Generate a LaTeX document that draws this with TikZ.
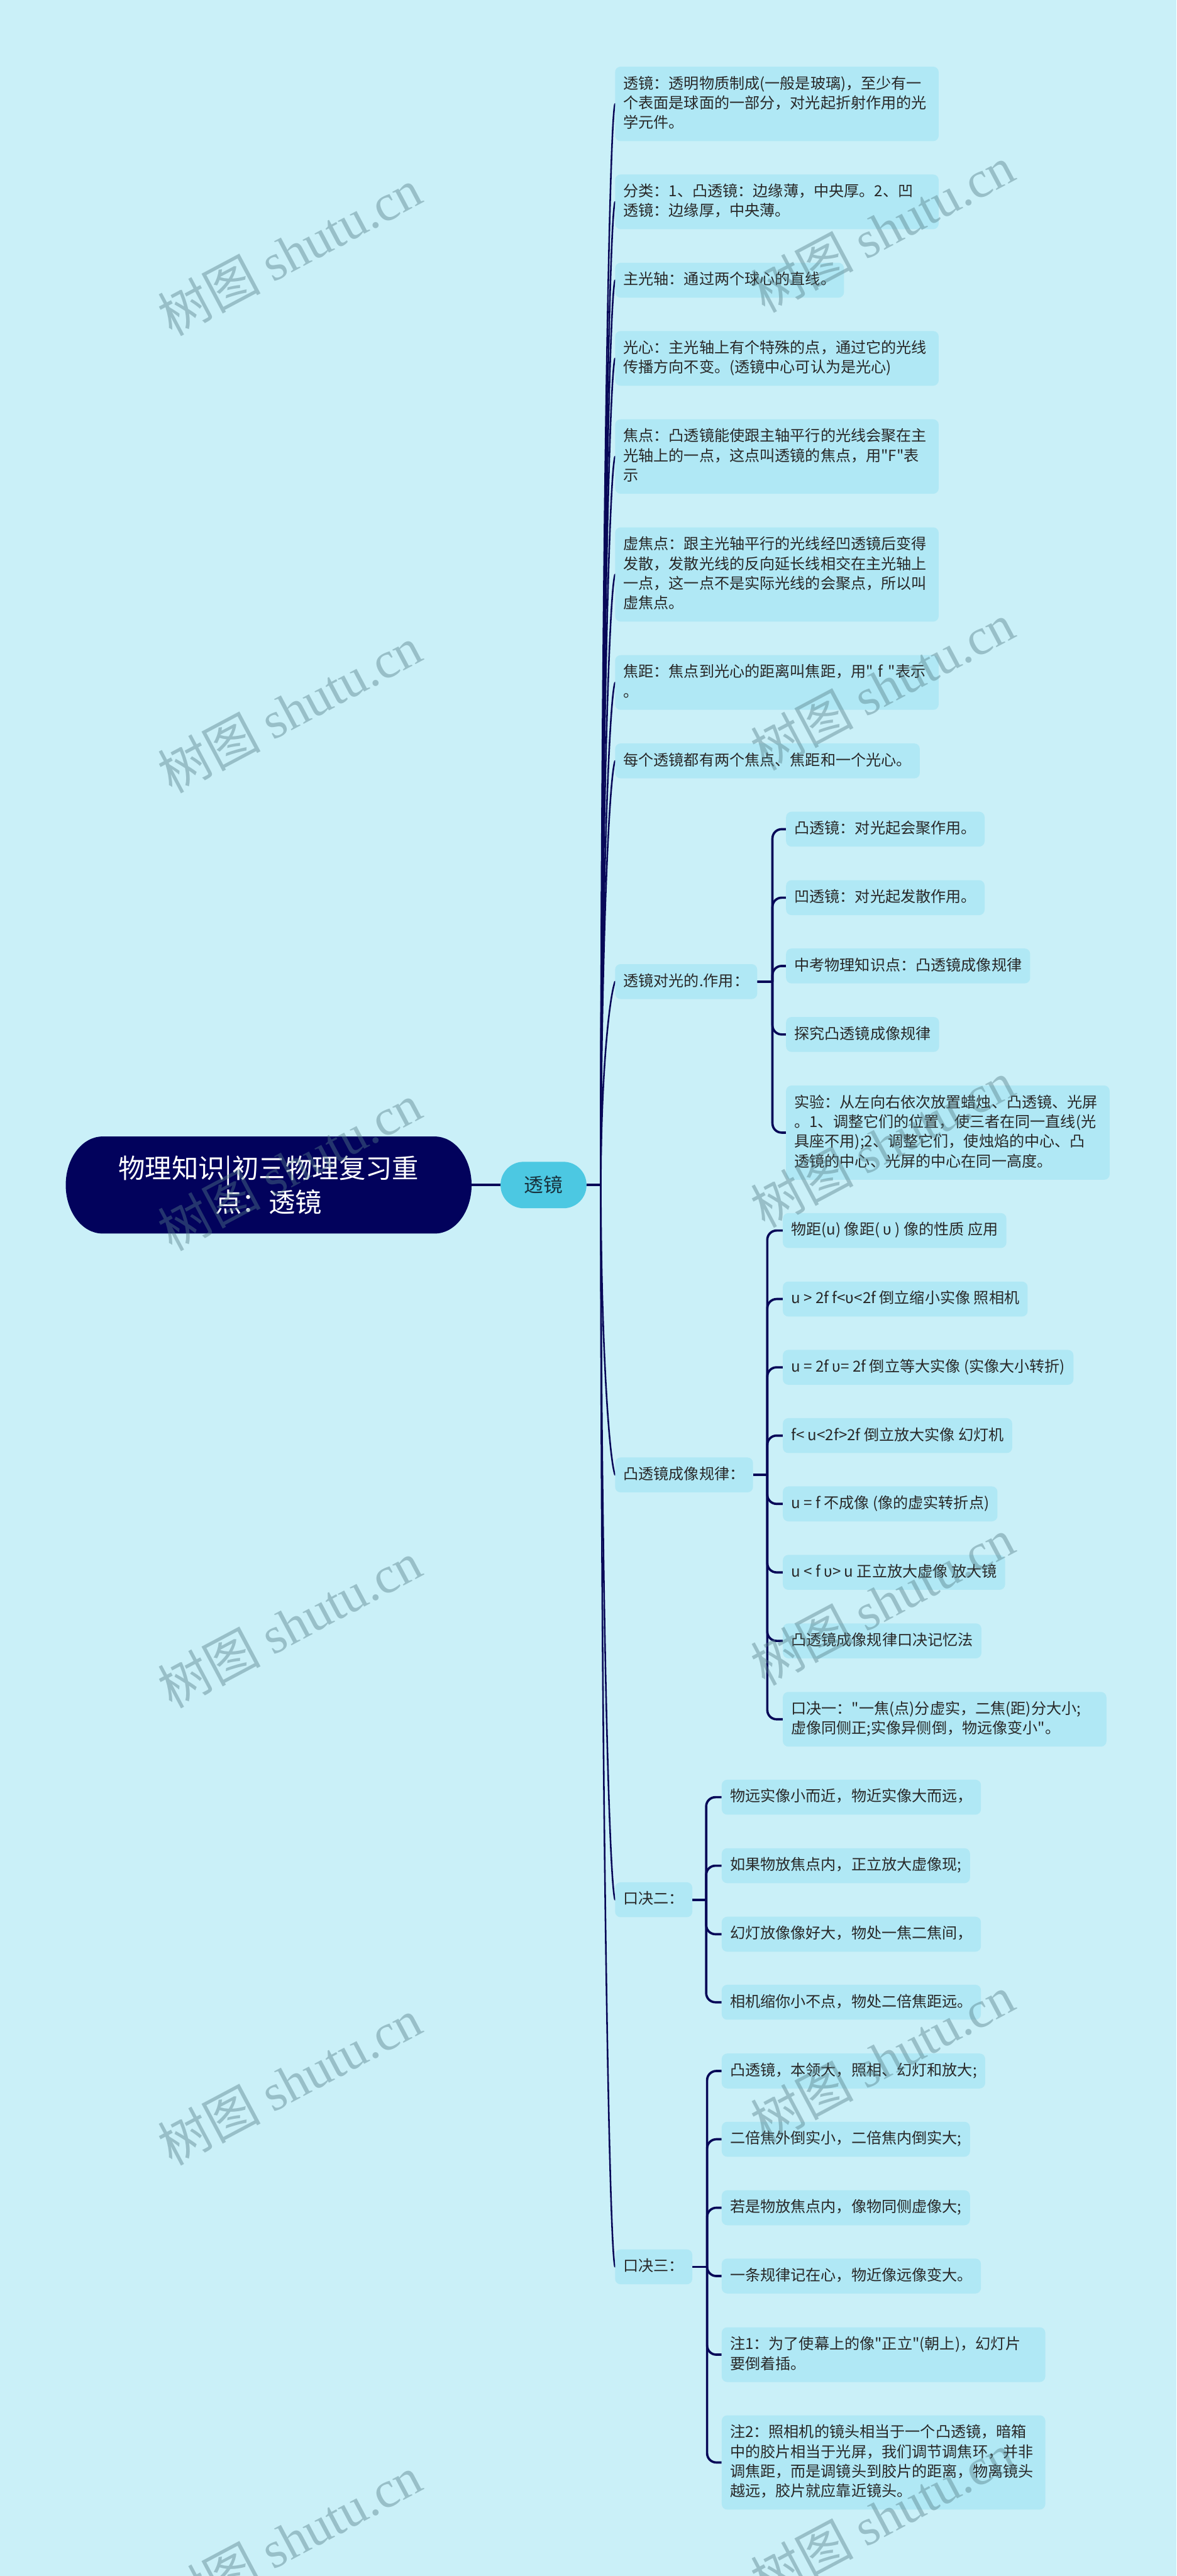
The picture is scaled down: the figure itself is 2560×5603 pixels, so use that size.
\documentclass[tikz,border=0pt]{standalone}
\usepackage{fontspec}
\setmainfont{Noto Sans CJK SC}[Ligatures=TeXOff]
\newfontfamily\wmlatin{Liberation Serif}
\usetikzlibrary{calc}
\pgfdeclarelayer{background}
\pgfsetlayers{background,main}
\definecolor{bgc}{RGB}{202,240,248}
\definecolor{boxc}{RGB}{176,232,245}
\definecolor{linec}{RGB}{8,8,88}
\definecolor{rootc}{RGB}{2,2,92}
\definecolor{pillc}{RGB}{76,200,226}
\definecolor{pilltxt}{RGB}{24,50,62}
\definecolor{txtc}{RGB}{40,40,40}
\definecolor{wmc}{RGB}{85,125,135}
\newcommand\mystr{\vrule width 0pt height 28pt depth 8pt\relax}
\tikzset{
  box/.style={fill=boxc, rounded corners=12pt, inner xsep=18pt, inner ysep=20pt, anchor=west, text=txtc, font=\fontsize{33pt}{43pt}\selectfont, align=left},
  wbox/.style={box, text width=668pt},
  lk/.style={draw=linec, line width=3.5pt, line cap=round},
  brk/.style={draw=linec, line width=5pt, rounded corners=20pt},
  trunk/.style={draw=linec, line width=5pt},
  wm/.style={text=wmc, text opacity=0.42, rotate=28, inner sep=0pt, font=\fontsize{112pt}{112pt}\selectfont},
}
\begin{document}
\begin{tikzpicture}[x=1pt,y=-1pt]
\useasboundingbox (0,0) rectangle (2560,5603);
\begin{pgfonlayer}{background}
\fill[bgc] (0,0) rectangle (2560,5603);
\end{pgfonlayer}

% root
\fill[rootc] (223,2472) -- (946,2472) .. controls (990.2,2472) and (1026,2519.2) .. (1026,2577.5) .. controls (1026,2635.8) and (990.2,2683) .. (946,2683) -- (223,2683) .. controls (178.8,2683) and (143,2635.8) .. (143,2577.5) .. controls (143,2519.2) and (178.8,2472) .. (223,2472) -- cycle;
\node[text=white, align=center, font=\fontsize{58pt}{74pt}\selectfont, minimum width=883pt, minimum height=211pt, inner sep=0pt] (root) at (584.5,2577.5) {物理知识|初三物理复习重\\点：透镜};

\node[fill=pillc, rounded corners=50pt, minimum width=187pt, minimum height=101pt, inner sep=0pt, text=pilltxt, font=\fontsize{42pt}{50pt}\selectfont] (tj) at (1182.5,2577.5) {透镜};
\coordinate (base) at ($(tj.east)+(31,0)$);

% level 1
\node[wbox] (A) at (1338,226) {\mystr 透镜：透明物质制成(一般是玻璃)，至少有一\\\mystr 个表面是球面的一部分，对光起折射作用的光\\\mystr 学元件。};
\node[wbox] (B) at (1338,439) {\mystr 分类：1、凸透镜：边缘薄，中央厚。2、凹\\\mystr 透镜：边缘厚，中央薄。};
\node[box] (C) at (1338,609.5) {\mystr 主光轴：通过两个球心的直线。};
\node[wbox] (D) at (1338,779.5) {\mystr 光心：主光轴上有个特殊的点，通过它的光线\\\mystr 传播方向不变。(透镜中心可认为是光心)};
\node[wbox] (E) at (1338,993) {\mystr 焦点：凸透镜能使跟主轴平行的光线会聚在主\\\mystr 光轴上的一点，这点叫透镜的焦点，用"F"表\\\mystr 示};
\node[wbox] (F) at (1338,1249.5) {\mystr 虚焦点：跟主光轴平行的光线经凹透镜后变得\\\mystr 发散，发散光线的反向延长线相交在主光轴上\\\mystr 一点，这一点不是实际光线的会聚点，所以叫\\\mystr 虚焦点。};
\node[wbox] (G) at (1338,1484.5) {\mystr 焦距：焦点到光心的距离叫焦距，用"~f~"表示\\\mystr 。};
\node[box] (H) at (1338,1655) {\mystr 每个透镜都有两个焦点、焦距和一个光心。};
\node[box] (I) at (1338,2135) {\mystr 透镜对光的.作用：};
\node[box] (J) at (1338,3208) {\mystr 凸透镜成像规律：};
\node[box] (K) at (1338,4132) {\mystr 口决二：};
\node[box] (L) at (1338,4930.5) {\mystr 口决三：};

% level 2 under I
\node[box] (I1) at (1710,1803.5) {\mystr 凸透镜：对光起会聚作用。};
\node[box] (I2) at (1710,1952.5) {\mystr 凹透镜：对光起发散作用。};
\node[box] (I3) at (1710,2101) {\mystr 中考物理知识点：凸透镜成像规律};
\node[box] (I4) at (1710,2250) {\mystr 探究凸透镜成像规律};
\node[wbox] (I5) at (1710,2463.5) {\mystr 实验：从左向右依次放置蜡烛、凸透镜、光屏\\\mystr 。1、调整它们的位置，使三者在同一直线(光\\\mystr 具座不用);2、调整它们，使烛焰的中心、凸\\\mystr 透镜的中心、光屏的中心在同一高度。};

% level 2 under J
\node[box] (J1) at (1703,2676.5) {\mystr 物距(u) 像距( υ ) 像的性质 应用};
\node[box] (J2) at (1703,2825.5) {\mystr u > 2f f<υ<2f 倒立缩小实像 照相机};
\node[box] (J3) at (1703,2974) {\mystr u = 2f υ= 2f 倒立等大实像 (实像大小转折)};
\node[box] (J4) at (1703,3122.5) {\mystr f< u<2f>2f 倒立放大实像 幻灯机};
\node[box] (J5) at (1703,3271) {\mystr u = f 不成像 (像的虚实转折点)};
\node[box] (J6) at (1703,3420) {\mystr u < f υ> u 正立放大虚像 放大镜};
\node[box] (J7) at (1703,3569) {\mystr 凸透镜成像规律口决记忆法};
\node[wbox] (J8) at (1703,3739.5) {\mystr 口决一："一焦(点)分虚实，二焦(距)分大小;\\\mystr 虚像同侧正;实像异侧倒，物远像变小"。};

% level 2 under K
\node[box] (K1) at (1570,3909) {\mystr 物远实像小而近，物近实像大而远，};
\node[box] (K2) at (1570,4058) {\mystr 如果物放焦点内，正立放大虚像现;};
\node[box] (K3) at (1570,4207) {\mystr 幻灯放像像好大，物处一焦二焦间，};
\node[box] (K4) at (1570,4355) {\mystr 相机缩你小不点，物处二倍焦距远。};

% level 2 under L
\node[box] (L1) at (1570,4504.5) {\mystr 凸透镜，本领大，照相、幻灯和放大;};
\node[box] (L2) at (1570,4653) {\mystr 二倍焦外倒实小，二倍焦内倒实大;};
\node[box] (L3) at (1570,4802) {\mystr 若是物放焦点内，像物同侧虚像大;};
\node[box] (L4) at (1570,4950.5) {\mystr 一条规律记在心，物近像远像变大。};
\node[wbox] (L5) at (1570,5121.5) {\mystr 注1：为了使幕上的像"正立"(朝上)，幻灯片\\\mystr 要倒着插。};
\node[wbox] (L6) at (1570,5356) {\mystr 注2：照相机的镜头相当于一个凸透镜，暗箱\\\mystr 中的胶片相当于光屏，我们调节调焦环，并非\\\mystr 调焦距，而是调镜头到胶片的距离，物离镜头\\\mystr 越远，胶片就应靠近镜头。};

\coordinate (Ij) at ($(I.east)+(33,0)$);
\coordinate (Jj) at ($(J.east)+(31,0)$);
\coordinate (Kj) at ($(K.east)+(30,0)$);
\coordinate (Lj) at ($(L.east)+(32,0)$);

\begin{pgfonlayer}{background}
\draw[trunk] (root.east) -- (tj.west);
\draw[trunk] (tj.east) -- (base);
\foreach \n in {A,B,C,D,E,F,G,H,I}
  \draw[lk] (base) .. controls ($(base)!0.5!(base |- \n.west)$) and ($(\n.west)+(-14,40)$) .. (\n.west);
\foreach \n in {J,K,L}
  \draw[lk] (base) .. controls ($(base)!0.5!(base |- \n.west)$) and ($(\n.west)+(-14,-40)$) .. (\n.west);
\draw[trunk] (I.east) -- (Ij);
\foreach \c in {I1,I2,I3,I4,I5} \draw[brk] (Ij) |- (\c.west);
\draw[trunk] (J.east) -- (Jj);
\foreach \c in {J1,J2,J3,J4,J5,J6,J7,J8} \draw[brk] (Jj) |- (\c.west);
\draw[trunk] (K.east) -- (Kj);
\foreach \c in {K1,K2,K3,K4} \draw[brk] (Kj) |- (\c.west);
\draw[trunk] (L.east) -- (Lj);
\foreach \c in {L1,L2,L3,L4,L5,L6} \draw[brk] (Lj) |- (\c.west);
\end{pgfonlayer}

% watermarks
\foreach \k in {0,...,5} {
  \node[wm] (wl\k) at (630,{548+995*\k}) {树图 {\wmlatin shutu.cn}};
  \node[wm] (wr\k) at (1920,{498+995*\k}) {树图 {\wmlatin shutu.cn}};
}
\end{tikzpicture}
\end{document}
